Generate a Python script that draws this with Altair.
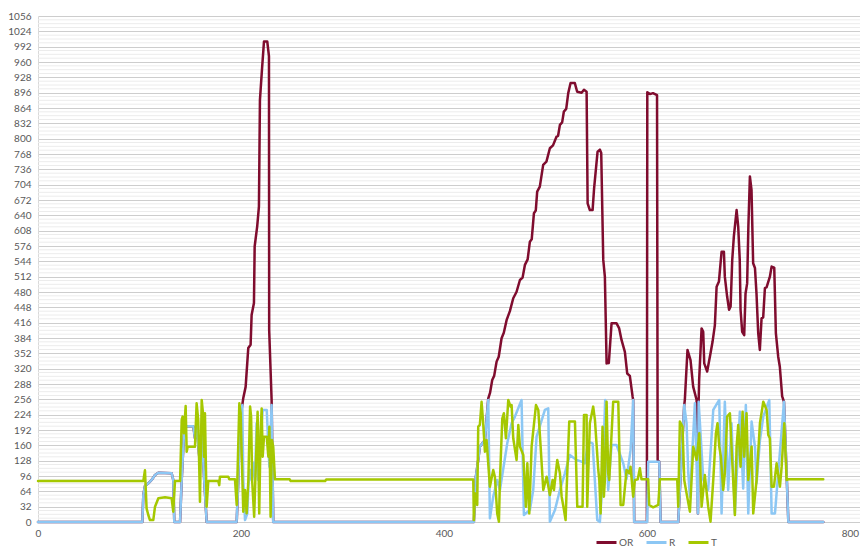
import altair as alt
import pandas as pd

SERIES = ["OR", "R", "T"]
COLORS = ["#7F0C2E", "#8CC7F4", "#A5C800"]
X_TICKS = [0, 200, 400, 600, 800]
Y_MAJOR = list(range(0, 1057, 32))
Y_MINOR = [v for v in range(0, 1057, 8) if v % 32]

OR_POINTS = [
    (0, 0), (102.8, 0), (103.8, 56.4), (105.4, 75), (108.7, 80.7), (112, 87.7), (115.3, 98),
    (118.6, 103), (131.7, 101.6), (133.3, 87.7), (134.3, 0), (140, 0), (141.6, 87.7),
    (144.2, 199), (148.1, 200), (153, 200), (154.7, 174.7), (156.3, 206), (159, 133),
    (161.3, 192), (163.6, 94.6), (166.2, 0),
    (195.8, 0), (197.4, 87.7), (199, 213), (201.3, 244), (202.3, 259), (204.6, 282),
    (207.2, 363), (209.5, 370), (210.5, 432), (212.8, 457), (213.5, 575), (216, 617),
    (217.7, 658), (218.7, 881), (220.7, 944), (222.7, 1003), (225.9, 1003), (227.6, 972),
    (227.8, 401), (230.2, 255), (231.8, 0), (429.5, 0), (431.5, 94.6), (433.8, 129.4),
    (435.4, 157.3), (440.4, 171), (443.7, 258), (445.5, 270), (447.6, 296.5), (449.5, 305),
    (451.9, 334.7), (454, 345), (456.8, 383.5), (459, 395), (461.8, 421.7), (465, 440),
    (468.3, 467), (471.5, 480), (474.9, 505), (477.5, 510), (479.8, 536.5), (482.5, 548),
    (484.7, 585), (486.5, 590), (488.7, 644.4), (490.5, 650), (491.9, 689.6), (494.5, 700),
    (497.8, 745.3), (501, 752), (504.4, 780), (507.5, 786), (511, 804.4), (512.5, 806),
    (514.3, 828.8), (516.5, 834), (518.2, 856.6), (520.5, 862), (522.5, 895), (524.8, 916),
    (529, 916), (531.3, 898), (535.7, 896), (538, 902), (540.6, 898), (541.6, 665),
    (543.8, 651), (546.5, 651), (548, 697), (551.4, 773), (553.7, 777), (555, 770),
    (557, 547), (558.6, 512), (560.3, 331), (562.5, 332), (565.2, 415), (570, 415),
    (572.7, 404), (575, 380), (578.3, 355), (580.6, 310), (583.2, 305), (585.9, 262),
    (586.5, 254.7), (587.5, 0), (600.0, 0), (600.4, 897), (603, 893), (606, 895),
    (610, 891), (610.6, 129), (612.2, 126), (613.5, 0), (630.9, 0),
    (636.8, 244), (637.4, 255), (640, 359), (643, 338), (645.6, 282.5), (649, 254.7),
    (650.3, 18), (651, 251), (651.5, 296.5), (653.9, 404), (655.5, 397), (656.5, 331),
    (659.4, 314), (662.7, 352), (664.7, 376), (667, 411), (668.7, 491), (671, 502),
    (673.6, 564), (675.9, 564), (676.8, 512), (679.1, 470), (681, 443), (682.5, 450),
    (684.1, 547), (685.7, 596), (688.4, 651), (690, 616), (691.5, 547), (692.3, 443),
    (693.9, 397), (695.9, 390), (697.2, 477), (698.8, 498), (700, 616), (701.5, 721),
    (703.1, 693), (704.7, 540), (706.5, 530), (708, 477), (709.7, 394), (711.3, 359),
    (713, 425), (714.6, 427), (716.3, 488), (718, 490), (721.2, 512), (722.9, 533),
    (725.5, 531), (727.1, 394), (729.4, 345), (731, 324), (733.3, 262), (735.1, 251),
    (739.4, 0), (773.8, 0),
]

R_POINTS = [
    (0, 0), (102.8, 0), (103.8, 56.4), (105.4, 75), (108.7, 80.7), (112, 87.7), (115.3, 98),
    (118.6, 103), (131.7, 101.6), (133.3, 87.7), (134.3, 0), (140, 0), (141.6, 87.7),
    (144.2, 199), (148.1, 200), (153, 200), (154.7, 174.7), (156.3, 206), (159, 133),
    (161.3, 192), (163.6, 94.6), (166.2, 0), (195.7, 0), (197.4, 87.7), (199, 213),
    (201.3, 244), (202.3, 87.7), (204, 4), (206.3, 18), (207.3, 73.8), (209, 108.6),
    (210.6, 87.7), (212.3, 122.5), (213.8, 87.7), (215.4, 206), (217, 87.7), (218.7, 157),
    (221.4, 233.8), (225.4, 233.8), (227, 157), (228, 115.5), (228.7, 157), (230.2, 244),
    (231.8, 0), (429.5, 0), (431.5, 94.6), (433.8, 129.4), (435.4, 157.3), (440.4, 171),
    (443.7, 254.7), (445.3, 7.7), (448.6, 52.9), (452.5, 87.7), (455.2, 66.8), (462.4, 164.2),
    (466.7, 206), (470, 220), (476.5, 254.7), (478.8, 14.6), (484.7, 25), (488, 66.8),
    (491.3, 178), (499.5, 233.8), (502.8, 237.3), (504.4, 0.7), (509.4, 25), (514.3, 66.8),
    (519.2, 101.6), (524.1, 139.9), (530.7, 129.4), (535.6, 126), (538.9, 122.5),
    (542.2, 167.7), (546.5, 164.2), (551.1, 4), (553.7, 0), (556.3, 87.7), (558.9, 254.7),
    (561.9, 66.8), (565.2, 160.7), (570.1, 160.7), (576.7, 122.5), (580, 90), (583.9, 150),
    (586.5, 254.7), (587.5, 0), (600.3, 0), (601.3, 126), (612.2, 126), (613.5, 0),
    (630.9, 0), (636.8, 244), (639.1, 206), (640.8, 101.6), (642.4, 52.9), (647.3, 247.7),
    (650.3, 18), (651, 251), (655.6, 87.7), (660.4, 66.8), (665.4, 233.8), (671.3, 254.7),
    (673.6, 18), (676.8, 251), (680.1, 66.8), (683.4, 206), (686.7, 18), (691.6, 230),
    (694.9, 70), (697.5, 244), (699.9, 18), (703.2, 209.5), (706.5, 157), (708.1, 80.7),
    (711.4, 171), (714.7, 220), (720.6, 254.7), (722.9, 18), (726.2, 18), (735.1, 251),
    (739.4, 0), (773.8, 0),
]

T_POINTS = [
    (0, 85.6), (103.8, 85.6), (105.4, 108), (107, 28.5), (108.7, 14.6), (110.3, 4),
    (113.6, 4), (115.3, 32), (118.6, 49.4), (125.2, 51.5), (131.7, 49.4), (133.3, 21.6),
    (135, 85.6), (140, 85.6), (141.6, 213), (142.5, 220), (143.8, 185), (145.5, 242),
    (146.5, 146.8), (147.5, 157), (154.7, 157.3), (156.3, 247.7), (157.9, 213), (159.6, 42.4),
    (161.3, 254.7), (162.9, 220), (163.6, 136.4), (164.5, 227), (166.2, 32), (167.8, 85.6),
    (177.6, 85.6), (178.6, 77), (179.3, 94.6), (187.5, 94.6), (188.5, 89), (194.1, 89),
    (195.8, 35.5), (198.4, 247.7), (199.7, 227), (200.5, 157), (202.3, 21.6), (204, 66.8),
    (205.6, 18), (207.3, 87.7), (209, 240.8), (210, 220), (211, 87.7), (213, 11),
    (214.7, 122.5), (216.4, 230), (218, 18), (219.4, 192), (220.4, 237), (221.4, 136.4),
    (222.7, 178), (225.4, 178), (227, 136.4), (228, 199), (229.2, 11), (230.5, 171),
    (231.8, 157), (233.5, 89), (248, 89), (249, 85.6), (283, 85.6), (284, 88.5),
    (428.9, 88.5), (429.5, 4), (430.5, 60), (432.8, 35.5), (433.8, 199), (435.4, 202.5),
    (437.1, 251), (438.7, 206), (440.4, 146.8), (442, 171), (445.3, 73.8), (448.6, 108.6),
    (450.2, 94.6), (452.5, 18), (454.2, 0.7), (455.2, 87.7), (457.5, 216), (459.1, 227),
    (461.1, 174.7), (463.4, 254.7), (465.7, 240.8), (466.7, 244), (468.3, 174.7),
    (471.6, 129.4), (473.3, 202.5), (474.9, 157.3), (478.2, 139.9), (480.8, 32),
    (482.2, 122.5), (484.1, 18), (486.4, 157.3), (490.7, 244), (493, 233.8), (495.3, 157),
    (497.9, 66.8), (501.2, 94.6), (504.4, 56.4), (507.1, 87.7), (508.4, 66.8), (511.7, 129.4),
    (514.3, 101.6), (516, 52.9), (518.3, 25), (519.9, 4), (520.9, 66.8), (523.5, 209.5),
    (529.1, 209.5), (531.4, 32), (536.6, 32), (538, 223.4), (540.6, 223.4), (541.2, 32),
    (543.8, 206), (547.1, 240.8), (548.8, 213), (552.1, 108.6), (553.1, 87.7), (554.4, 18),
    (556.3, 199), (557.6, 52.9), (558.6, 87.7), (560.3, 251), (561.9, 101.6), (562.9, 87.7),
    (566.8, 251), (571.8, 251), (574.1, 35.5), (576.7, 35.5), (580, 108.6), (582.6, 101.6),
    (583.9, 115.5), (586.5, 52.9), (588.2, 87.7), (591, 89), (593.1, 112), (594.7, 89),
    (601.3, 89), (602.3, 35.5), (606.2, 30.6), (611.2, 35.5), (612.8, 89), (629.9, 89),
    (630.9, 32), (632.5, 209.5), (635.1, 199), (636.8, 87.7), (639.1, 59.8), (642.4, 21.6),
    (645.7, 157.3), (649, 129.4), (651.6, 185), (653.9, 32), (657.1, 98), (660.4, 32),
    (662.7, 0.7), (665.4, 87.7), (668, 185), (669.6, 206), (671.3, 157.3), (672.9, 136.4),
    (675.2, 66.8), (676.8, 101.6), (679.1, 220), (681.8, 227), (686.7, 14.6), (688.4, 157.3),
    (690, 202.5), (692.3, 115.5), (694.3, 230.3), (695.9, 136.4), (698.2, 227), (699.9, 87.7),
    (703.2, 157.3), (704.8, 18), (708.1, 87.7), (711.4, 206), (714.7, 251), (718, 233.8),
    (719.6, 181.6), (721.2, 174.7), (722.9, 73.8), (725.2, 73.8), (727.8, 122.5),
    (731.1, 73.8), (732.8, 115.5), (735.4, 206), (737.7, 87.7), (739.4, 89), (773.8, 89),
]

rows = []
for name, pts in zip(SERIES, [OR_POINTS, R_POINTS, T_POINTS]):
    for i, (x, y) in enumerate(pts):
        rows.append({"series": name, "x": x, "y": y, "i": i})
df = pd.DataFrame(rows)

FONT = "Lato"
LABEL_COLOR = "#595959"

x_scale = alt.Scale(domain=[0, 810], nice=False, zero=False)
y_scale = alt.Scale(domain=[0, 1056], nice=False)

x_axis = alt.Axis(values=X_TICKS, grid=False, ticks=False, domain=False, title=None,
                  format="d", labelFont=FONT, labelFontSize=10, labelColor=LABEL_COLOR,
                  labelPadding=6, labelFlush=False)
y_axis = alt.Axis(values=Y_MAJOR, grid=True, gridColor="#cdcdcd", gridWidth=1,
                  ticks=False, domain=True, domainColor="#d9d9d9", title=None, format="d",
                  labelFont=FONT, labelFontSize=10, labelColor=LABEL_COLOR, labelPadding=7)

color = alt.Color(
    "series:N",
    scale=alt.Scale(domain=SERIES, range=COLORS),
    legend=alt.Legend(
        orient="none", legendX=557, legendY=515, direction="horizontal", title=None,
        symbolType="stroke", symbolSize=400, symbolStrokeWidth=3,
        labelFont=FONT, labelFontSize=10, labelColor=LABEL_COLOR,
        columnPadding=6, labelOffset=1, padding=0, gridAlign="none",
    ),
)

minor = alt.Chart(pd.DataFrame({"v": Y_MINOR})).mark_rule(
    color="#ececec", strokeWidth=1
).encode(y=alt.Y("v:Q", scale=y_scale, axis=y_axis))


def series_layer(name):
    return (
        alt.Chart(df)
        .transform_filter(alt.datum.series == name)
        .mark_line(strokeWidth=2.5, strokeJoin="round", strokeCap="round")
        .encode(
            x=alt.X("x:Q", scale=x_scale, axis=x_axis),
            y=alt.Y("y:Q", scale=y_scale, axis=y_axis),
            color=color,
            order="i:Q",
        )
    )


chart = (
    alt.layer(minor, series_layer("OR"), series_layer("R"), series_layer("T"))
    .properties(
        width=822,
        height=506,
        autosize=alt.AutoSizeParams(type="none"),
        padding={"left": 30, "top": 8, "right": 0, "bottom": 28},
    )
    .configure_view(stroke=None)
)

chart.save("out.html", embed_options={"renderer": "svg", "actions": False})
